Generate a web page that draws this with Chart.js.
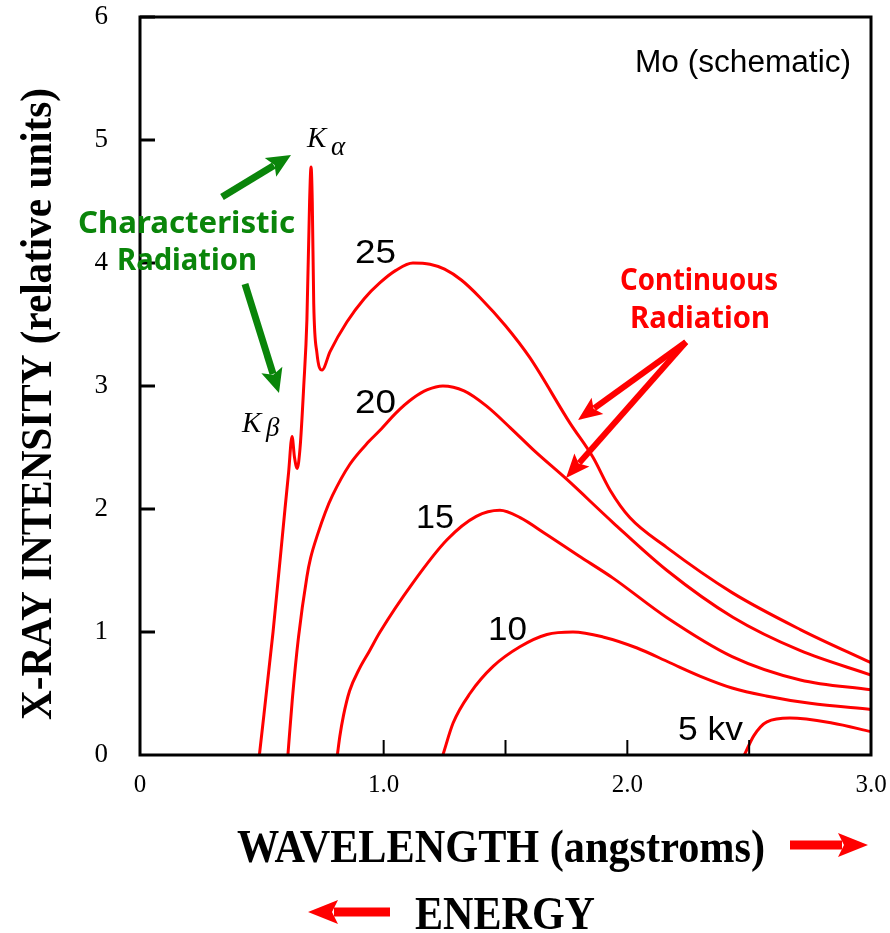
<!DOCTYPE html>
<html>
<head>
<meta charset="utf-8">
<script src="https://cdn.jsdelivr.net/npm/chart.js@4.4.0/dist/chart.umd.min.js"></script>
<style>
  html, body { margin: 0; padding: 0; background: #fff; }
  canvas { display: block; }
</style>
</head>
<body>
<canvas id="chart" width="890" height="933"></canvas>
<script>
// wavelength (angstroms) and intensity (relative units)
const wl25 = [0.49, 0.546, 0.595, 0.61, 0.624, 0.634, 0.645, 0.657, 0.672, 0.685, 0.696, 0.702, 0.707, 0.713, 0.726, 0.747, 0.78, 0.849, 0.92, 0.985, 1.05, 1.12, 1.19, 1.25, 1.32, 1.395, 1.50, 1.60, 1.764, 1.859, 1.93, 2.01, 2.16, 2.43, 2.71, 3.0];
const int25 = [0, 1.0, 2.0, 2.3, 2.59, 2.42, 2.33, 2.5, 3.0, 3.54, 4.5, 4.78, 4.5, 3.67, 3.27, 3.13, 3.28, 3.52, 3.71, 3.84, 3.94, 4.0, 3.99, 3.95, 3.86, 3.72, 3.49, 3.23, 2.70, 2.42, 2.15, 1.93, 1.69, 1.32, 1.02, 0.75];

const wl20 = [0.607, 0.625, 0.65, 0.685, 0.70, 0.73, 0.76, 0.79, 0.86, 0.94, 0.985, 1.05, 1.12, 1.18, 1.243, 1.33, 1.42, 1.52, 1.62, 1.752, 1.941, 2.163, 2.433, 2.708, 3.0];
const int20 = [0, 0.45, 0.95, 1.45, 1.6, 1.80, 1.97, 2.11, 2.36, 2.55, 2.64, 2.78, 2.90, 2.97, 3.0, 2.96, 2.84, 2.66, 2.47, 2.24, 1.89, 1.50, 1.12, 0.85, 0.65];

const wl15 = [0.81, 0.82, 0.835, 0.86, 0.90, 0.94, 0.985, 1.12, 1.26, 1.38, 1.477, 1.56, 1.67, 1.80, 1.94, 2.16, 2.43, 2.71, 3.0];
const int15 = [0, 0.15, 0.32, 0.52, 0.70, 0.84, 1.0, 1.40, 1.75, 1.94, 1.99, 1.93, 1.79, 1.62, 1.44, 1.12, 0.80, 0.61, 0.53];

const wl10 = [1.243, 1.285, 1.354, 1.449, 1.559, 1.67, 1.777, 1.90, 2.04, 2.175, 2.30, 2.43, 2.57, 2.75, 3.0];
const int10 = [0, 0.26, 0.50, 0.72, 0.88, 0.98, 1.0, 0.96, 0.87, 0.75, 0.64, 0.545, 0.48, 0.42, 0.37];

const wl5 = [2.48, 2.52, 2.573, 2.667, 2.84, 3.0];
const int5 = [0, 0.16, 0.27, 0.30, 0.26, 0.19];

const xTickMarks = [1.0, 1.5, 2.0, 2.5];
const yTickMarks = [1, 2, 3, 4, 5, 6];

function toPoints(xs, ys) {
  return xs.map((x, i) => ({ x: x, y: ys[i] }));
}

function series(xs, ys) {
  return {
    data: toPoints(xs, ys),
    borderColor: '#ff0000',
    borderWidth: 3,
    pointRadius: 0,
    fill: false,
    cubicInterpolationMode: 'monotone'
  };
}

// text squeezed (or stretched) horizontally to a given width
function fitText(ctx, str, x, y, font, color, width, align) {
  ctx.save();
  ctx.font = font;
  ctx.fillStyle = color;
  ctx.textBaseline = 'alphabetic';
  const w = ctx.measureText(str).width;
  const s = width ? width / w : 1;
  ctx.translate(x, y);
  ctx.scale(s, 1);
  ctx.textAlign = align || 'left';
  ctx.fillText(str, 0, 0);
  ctx.restore();
}

function arrow(ctx, x1, y1, x2, y2, shaft, headLen, headW, color) {
  const a = Math.atan2(y2 - y1, x2 - x1);
  const len = Math.hypot(x2 - x1, y2 - y1);
  ctx.save();
  ctx.translate(x1, y1);
  ctx.rotate(a);
  ctx.fillStyle = color;
  ctx.fillRect(0, -shaft / 2, len - headLen + 4, shaft);
  ctx.beginPath();
  ctx.moveTo(len, 0);
  ctx.lineTo(len - headLen, -headW / 2);
  ctx.lineTo(len - headLen * 0.8, 0);
  ctx.lineTo(len - headLen, headW / 2);
  ctx.closePath();
  ctx.fill();
  ctx.restore();
}

// drop the extra room chart.js keeps for overflowing tick labels
function noOverflow(s) {
  s.paddingTop = 0;
  s.paddingBottom = 0;
  s.paddingLeft = 0;
  s.paddingRight = 0;
}

const decorations = {
  id: 'decorations',
  afterDraw(chart) {
    const ctx = chart.ctx;
    const xs = chart.scales.x, ys = chart.scales.y;
    const a = chart.chartArea;

    // frame and inward ticks
    ctx.save();
    ctx.strokeStyle = '#000';
    ctx.lineWidth = 3;
    ctx.strokeRect(a.left, a.top, a.right - a.left, a.bottom - a.top);
    yTickMarks.forEach(v => {
      const py = ys.getPixelForValue(v);
      ctx.beginPath();
      ctx.moveTo(a.left, py);
      ctx.lineTo(a.left + 15, py);
      ctx.stroke();
    });
    ctx.lineWidth = 2;
    xTickMarks.forEach(v => {
      const px = xs.getPixelForValue(v);
      ctx.beginPath();
      ctx.moveTo(px, a.bottom);
      ctx.lineTo(px, a.bottom - 15);
      ctx.stroke();
    });
    ctx.restore();

    // axis titles
    ctx.save();
    ctx.translate(51, 404);
    ctx.rotate(-Math.PI / 2);
    fitText(ctx, 'X-RAY INTENSITY (relative units)', 0, 0, 'bold 44px "Liberation Serif"', '#000', 632, 'center');
    ctx.restore();
    fitText(ctx, 'WAVELENGTH (angstroms)', 501, 862, 'bold 46px "Liberation Serif"', '#000', 528, 'center');
    fitText(ctx, 'ENERGY', 505, 929, 'bold 46px "Liberation Serif"', '#000', 180, 'center');
    arrow(ctx, 790, 845, 868, 845, 9, 30, 24, '#ff0000');
    arrow(ctx, 390, 912, 308, 912, 9, 30, 24, '#ff0000');

    // curve labels
    const sans = '"Liberation Sans", Arial, sans-serif';
    fitText(ctx, 'Mo (schematic)', 635, 72, '31px ' + sans, '#000', 216);
    fitText(ctx, '25', 355, 263, '34px ' + sans, '#000', 41);
    fitText(ctx, '20', 355, 413, '34px ' + sans, '#000', 41);
    fitText(ctx, '15', 416, 528, '34px ' + sans, '#000', 38);
    fitText(ctx, '10', 488, 640, '34px ' + sans, '#000', 39);
    fitText(ctx, '5 kv', 678, 740, '34px ' + sans, '#000', 65);

    // K lines
    ctx.save();
    ctx.fillStyle = '#000';
    ctx.font = 'italic 29px "Liberation Serif"';
    ctx.fillText('K', 307, 147);
    ctx.font = 'italic 27px "Liberation Serif"';
    ctx.fillText('\u03B1', 331, 155);
    ctx.font = 'italic 29px "Liberation Serif"';
    ctx.fillText('K', 242, 432);
    ctx.font = 'italic 27px "Liberation Serif"';
    ctx.fillText('\u03B2', 266, 436);
    ctx.restore();

    // characteristic radiation
    const green = '#0a850a';
    fitText(ctx, 'Characteristic', 78, 233, 'bold 30px "Noto Sans"', green, 217);
    fitText(ctx, 'Radiation', 117, 270, 'bold 30px "Noto Sans"', green, 140);
    arrow(ctx, 222, 197, 291, 155, 7, 24, 22, green);
    arrow(ctx, 245, 284, 279, 393, 7, 24, 22, green);

    // continuous radiation
    fitText(ctx, 'Continuous', 620, 290, 'bold 30px "Noto Sans"', '#ff0000', 158);
    fitText(ctx, 'Radiation', 630, 328, 'bold 30px "Noto Sans"', '#ff0000', 140);
    arrow(ctx, 686, 342, 578, 420, 6, 24, 20, '#ff0000');
    arrow(ctx, 686, 342, 566, 478, 6, 24, 20, '#ff0000');
  }
};

const serif = '"Liberation Serif", "Times New Roman", serif';

new Chart(document.getElementById('chart'), {
  type: 'line',
  data: {
    datasets: [
      series(wl25, int25),
      series(wl20, int20),
      series(wl15, int15),
      series(wl10, int10),
      series(wl5, int5)
    ]
  },
  options: {
    responsive: false,
    animation: false,
    devicePixelRatio: 1,
    layout: { padding: { top: 17, right: 19, left: 0, bottom: 0 } },
    plugins: { legend: { display: false }, tooltip: { enabled: false } },
    scales: {
      x: {
        type: 'linear',
        min: 0,
        max: 3,
        grid: { display: false },
        border: { display: false },
        ticks: {
          stepSize: 1,
          maxRotation: 0,
          padding: 7,
          color: '#000',
          font: { family: serif, size: 25 },
          callback: v => v === 0 ? '0' : v.toFixed(1)
        },
        afterFit(s) { s.height = 178; noOverflow(s); }
      },
      y: {
        min: 0,
        max: 6,
        grid: { display: false },
        border: { display: false },
        ticks: {
          stepSize: 1,
          padding: 24,
          color: '#000',
          font: { family: serif, size: 27 }
        },
        afterFit(s) { s.width = 140; noOverflow(s); }
      }
    }
  },
  plugins: [decorations]
});
</script>
</body>
</html>
